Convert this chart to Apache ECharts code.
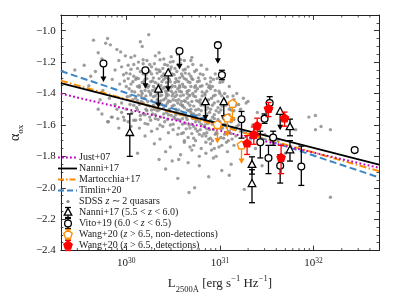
<!DOCTYPE html>
<html><head><meta charset="utf-8">
<script src="https://cdn.jsdelivr.net/npm/echarts@6/dist/echarts.min.js"></script>
<style>html,body{margin:0;padding:0;background:#fff}#c{width:399px;height:299px}</style>
</head><body><div id="c"></div>
<script>
const FONT = 'Liberation Serif';

// ---- fit relations: endpoints [L2500, alpha_ox]
const justLine = [[2e29, -1.401], [5e32, -1.873]];
const nanniLine = [[2e29, -1.333], [5e32, -1.853]];
const martLine = [[2e29, -1.318], [5e32, -1.894]];
const timlinLine = [[2e29, -1.257], [5e32, -1.934]];

// ---- SDSS z~2 quasars: [log10 L2500, alpha_ox]
const sdss = [
[29.65,-1.06],[29.80,-1.05],[29.78,-1.08],[29.83,-1.09],[29.70,-1.14],[29.55,-1.22],[29.74,-1.18],[29.67,-1.26],[29.92,-1.19],[29.88,-1.25],
[29.85,-1.31],[29.95,-1.23],[29.97,-1.28],[29.60,-1.35],[29.75,-1.38],[29.93,-1.34],[29.99,-1.16],[29.90,-1.12],[29.45,-1.25],[29.82,-1.43],
[29.70,-1.50],[29.88,-1.47],[29.95,-1.52],[29.80,-1.58],[29.92,-1.62],[29.98,-1.57],[29.72,-1.44],[29.62,-1.29],
[30.24,-1.025],[30.15,-1.07],[29.94,-1.135],[30.09,-1.16],[30.17,-1.10],[30.69,-1.19],[30.48,-1.166],[30.50,-1.196],
[30.05,-1.17],[30.22,-1.19],[30.31,-1.16],[30.40,-1.18],[30.55,-1.15],[30.62,-1.19],[30.70,-1.17],[30.13,-1.20],[30.47,-1.20],[30.35,-1.14],
[30.02,-1.22],[30.12,-1.24],[30.18,-1.21],[30.27,-1.23],[30.35,-1.25],[30.44,-1.22],[30.52,-1.24],[30.58,-1.21],[30.66,-1.23],[30.75,-1.25],
[30.80,-1.22],[30.30,-1.21],[30.48,-1.23],[30.61,-1.25],[30.39,-1.24],[30.23,-1.25],
[30.00,-1.27],[30.08,-1.29],[30.15,-1.26],[30.21,-1.28],[30.29,-1.30],[30.33,-1.27],[30.38,-1.29],[30.46,-1.26],[30.51,-1.28],[30.57,-1.30],
[30.63,-1.27],[30.69,-1.29],[30.73,-1.26],[30.82,-1.28],[30.90,-1.30],[30.25,-1.26],[30.42,-1.30],[30.54,-1.26],[30.60,-1.29],[30.77,-1.30],
[30.36,-1.26],[30.11,-1.30],
[29.98,-1.32],[30.05,-1.34],[30.10,-1.31],[30.17,-1.33],[30.24,-1.35],[30.28,-1.32],[30.34,-1.34],[30.40,-1.31],[30.43,-1.33],[30.49,-1.35],
[30.54,-1.32],[30.60,-1.34],[30.64,-1.31],[30.68,-1.33],[30.74,-1.35],[30.78,-1.32],[30.86,-1.34],[30.93,-1.31],[31.00,-1.33],[30.20,-1.31],
[30.31,-1.33],[30.46,-1.31],[30.57,-1.35],[30.71,-1.31],[30.81,-1.35],[30.37,-1.35],[30.14,-1.35],[30.52,-1.33],
[30.03,-1.37],[30.09,-1.39],[30.14,-1.36],[30.20,-1.38],[30.26,-1.40],[30.31,-1.37],[30.36,-1.39],[30.41,-1.36],[30.45,-1.38],[30.50,-1.40],
[30.55,-1.37],[30.59,-1.39],[30.63,-1.36],[30.67,-1.38],[30.71,-1.40],[30.76,-1.37],[30.81,-1.39],[30.88,-1.36],[30.95,-1.38],[31.05,-1.40],
[30.23,-1.36],[30.33,-1.40],[30.39,-1.37],[30.48,-1.36],[30.53,-1.39],[30.65,-1.40],[30.73,-1.36],[30.84,-1.40],[30.17,-1.40],[30.43,-1.40],
[30.57,-1.36],[30.28,-1.38],
[30.01,-1.42],[30.07,-1.44],[30.13,-1.41],[30.19,-1.43],[30.23,-1.45],[30.29,-1.42],[30.33,-1.44],[30.38,-1.41],[30.42,-1.43],[30.47,-1.45],
[30.52,-1.42],[30.56,-1.44],[30.61,-1.41],[30.65,-1.43],[30.70,-1.45],[30.74,-1.42],[30.79,-1.44],[30.84,-1.41],[30.91,-1.43],[30.98,-1.45],
[31.08,-1.42],[30.26,-1.41],[30.35,-1.45],[30.45,-1.41],[30.50,-1.44],[30.59,-1.45],[30.68,-1.41],[30.77,-1.45],[30.88,-1.44],[30.16,-1.45],
[30.40,-1.44],[30.54,-1.41],[30.63,-1.45],[30.10,-1.43],[30.95,-1.41],
[30.04,-1.47],[30.11,-1.49],[30.18,-1.46],[30.25,-1.48],[30.30,-1.50],[30.35,-1.47],[30.40,-1.49],[30.44,-1.46],[30.49,-1.48],[30.53,-1.50],
[30.58,-1.47],[30.62,-1.49],[30.66,-1.46],[30.72,-1.48],[30.77,-1.50],[30.82,-1.47],[30.87,-1.49],[30.94,-1.46],[31.02,-1.48],[31.10,-1.50],
[30.21,-1.50],[30.32,-1.46],[30.46,-1.50],[30.55,-1.46],[30.69,-1.50],[30.79,-1.46],[30.90,-1.50],[30.98,-1.49],[30.14,-1.47],[30.38,-1.47],
[30.60,-1.48],[30.84,-1.48],
[30.06,-1.52],[30.15,-1.54],[30.22,-1.51],[30.28,-1.53],[30.37,-1.55],[30.43,-1.52],[30.48,-1.54],[30.54,-1.51],[30.60,-1.53],[30.64,-1.55],
[30.69,-1.52],[30.75,-1.54],[30.80,-1.51],[30.86,-1.53],[30.92,-1.55],[30.99,-1.52],[31.06,-1.54],[31.15,-1.51],[30.33,-1.51],[30.51,-1.55],
[30.67,-1.51],[30.83,-1.55],[30.96,-1.51],[31.03,-1.55],[30.40,-1.53],[30.57,-1.53],[30.72,-1.53],[30.89,-1.52],[30.18,-1.53],[30.25,-1.55],
[30.10,-1.57],[30.20,-1.59],[30.31,-1.56],[30.41,-1.58],[30.47,-1.60],[30.57,-1.57],[30.63,-1.59],[30.71,-1.56],[30.78,-1.58],[30.84,-1.60],
[30.90,-1.57],[30.97,-1.59],[31.04,-1.56],[31.12,-1.58],[31.20,-1.60],[30.36,-1.60],[30.52,-1.56],[30.67,-1.60],[30.81,-1.56],[30.94,-1.56],
[31.08,-1.60],[30.74,-1.58],[30.87,-1.59],[31.00,-1.58],[30.26,-1.57],[30.60,-1.56],
[30.14,-1.62],[30.27,-1.64],[30.39,-1.61],[30.50,-1.63],[30.61,-1.65],[30.68,-1.62],[30.76,-1.64],[30.83,-1.61],[30.89,-1.63],[30.96,-1.65],
[31.03,-1.62],[31.10,-1.64],[31.18,-1.61],[30.72,-1.61],[30.86,-1.65],[30.99,-1.61],[31.06,-1.65],[30.56,-1.62],[30.93,-1.63],[30.79,-1.63],
[30.45,-1.65],
[30.20,-1.67],[30.36,-1.69],[30.55,-1.66],[30.66,-1.68],[30.74,-1.70],[30.81,-1.67],[30.88,-1.69],[30.95,-1.66],[31.01,-1.68],[31.09,-1.70],
[31.17,-1.67],[30.92,-1.70],[30.78,-1.66],[31.05,-1.66],[30.62,-1.70],[30.85,-1.67],[31.13,-1.69],[30.98,-1.69],
[30.30,-1.72],[30.47,-1.74],[30.62,-1.71],[30.72,-1.73],[30.80,-1.75],[30.90,-1.72],[30.99,-1.74],[31.07,-1.71],[31.15,-1.73],[30.85,-1.71],
[31.02,-1.73],[30.68,-1.74],[30.94,-1.75],
[30.12,-1.78],[30.42,-1.77],[30.58,-1.79],[30.70,-1.76],[30.85,-1.78],[30.96,-1.80],[31.08,-1.77],[30.78,-1.80],[30.91,-1.76],
[30.35,-1.82],[30.42,-1.88],[30.56,-1.82],[30.66,-1.84],[30.78,-1.86],[30.93,-1.81],[31.12,-1.85],[30.49,-1.83],[31.02,-1.89],
[30.55,-1.94],[30.67,-2.03],[30.73,-2.00],[30.88,-1.93],[31.10,-1.92],[31.26,-2.01],[32.18,-2.06],
[31.95,-1.55],[32.02,-1.54],[32.02,-1.63],[32.08,-1.61],[32.18,-1.63],[31.81,-1.63],[31.55,-1.47],[31.40,-1.52],[31.62,-1.70],[31.35,-1.60],
[31.48,-1.66],[31.30,-1.45],[31.25,-1.55],[31.38,-1.75],[31.45,-1.86],[31.70,-1.78],[31.33,-1.69],
[31.15,-1.44],[31.20,-1.47],[31.25,-1.43],[31.28,-1.46],[31.18,-1.40],[31.12,-1.46],[31.22,-1.50],[30.90,-1.37],[31.00,-1.40],[30.89,-1.35],
[29.97,-1.55],[30.02,-1.58],[29.90,-1.50],[30.05,-1.61],[29.85,-1.55],[30.08,-1.57],[29.95,-1.46],[30.00,-1.50],[29.74,-1.53],[29.84,-1.55],
[29.91,-1.56],[29.81,-1.58],
[30.18,-1.185],[30.36,-1.185],[30.58,-1.185],
[30.08,-1.215],[30.25,-1.215],[30.41,-1.215],[30.55,-1.215],[30.71,-1.215],
[30.05,-1.245],[30.20,-1.245],[30.32,-1.245],[30.47,-1.245],[30.63,-1.245],[30.86,-1.245],
[30.04,-1.275],[30.18,-1.275],[30.27,-1.275],[30.40,-1.275],[30.49,-1.275],[30.59,-1.275],[30.67,-1.275],[30.79,-1.275],[30.95,-1.275],
[30.02,-1.305],[30.13,-1.305],[30.22,-1.305],[30.35,-1.305],[30.45,-1.305],[30.53,-1.305],[30.62,-1.305],[30.70,-1.305],[30.84,-1.305],[30.97,-1.305],
[30.07,-1.325],[30.19,-1.325],[30.26,-1.325],[30.38,-1.325],[30.47,-1.325],[30.56,-1.325],[30.66,-1.325],[30.76,-1.325],[30.90,-1.325],[31.03,-1.325],
[30.00,-1.355],[30.12,-1.355],[30.21,-1.355],[30.29,-1.355],[30.35,-1.355],[30.44,-1.355],[30.52,-1.355],[30.61,-1.355],[30.69,-1.355],[30.79,-1.355],
[30.92,-1.355],[31.10,-1.355],
[30.06,-1.385],[30.16,-1.385],[30.24,-1.385],[30.34,-1.385],[30.42,-1.385],[30.48,-1.385],[30.57,-1.385],[30.65,-1.385],[30.74,-1.385],[30.86,-1.385],
[30.99,-1.385],
[30.04,-1.415],[30.16,-1.415],[30.21,-1.415],[30.31,-1.415],[30.36,-1.415],[30.43,-1.415],[30.49,-1.415],[30.58,-1.415],[30.67,-1.415],[30.72,-1.415],
[30.81,-1.415],[30.93,-1.415],[31.02,-1.415],[31.14,-1.415],
[30.12,-1.445],[30.27,-1.445],[30.37,-1.445],[30.45,-1.445],[30.53,-1.445],[30.62,-1.445],[30.75,-1.445],[30.86,-1.445],[31.05,-1.445],
[30.08,-1.475],[30.22,-1.475],[30.29,-1.475],[30.42,-1.475],[30.51,-1.475],[30.60,-1.475],[30.68,-1.475],[30.80,-1.475],[30.92,-1.475],[31.06,-1.475],
[31.17,-1.475],
[30.12,-1.505],[30.27,-1.505],[30.35,-1.505],[30.46,-1.505],[30.56,-1.505],[30.65,-1.505],[30.74,-1.505],[30.85,-1.505],[31.01,-1.505],[31.12,-1.505],
[30.20,-1.535],[30.31,-1.535],[30.45,-1.535],[30.53,-1.535],[30.62,-1.535],[30.70,-1.535],[30.78,-1.535],[30.94,-1.535],[31.10,-1.535],
[30.15,-1.565],[30.34,-1.565],[30.44,-1.565],[30.55,-1.565],[30.65,-1.565],[30.76,-1.565],[30.83,-1.565],[30.98,-1.565],[31.15,-1.565],
[30.23,-1.595],[30.50,-1.595],[30.60,-1.595],[30.70,-1.595],[30.80,-1.595],[30.92,-1.595],[31.05,-1.595],
[30.33,-1.625],[30.64,-1.625],[30.74,-1.625],[30.86,-1.625],[31.01,-1.625],[31.14,-1.625],
[30.59,-1.655],[30.70,-1.655],[30.83,-1.655],[30.97,-1.655],[31.12,-1.655],
[30.72,-1.685],[30.90,-1.685],[31.04,-1.685]
];

// ---- Nanni+17 (5.5<z<6.0): L, alpha, err+, err-, upper limit flag
const nanniL   = [1.09e30, 2.2e30, 2.8e30, 7.0e30, 1.1e31, 4.4e31, 5.6e31, 5.6e31, 2.2e31, 2.2e31];
const nanniA   = [-1.65, -1.374, -1.27, -1.454, -1.454, -1.515, -1.613, -1.76, -1.853, -1.975];
const nanniUp  = [0.12, 0, 0, 0, 0, 0, 0.05, 0.06, 0.05, 0.09];
const nanniDn  = [0.15, 0, 0, 0, 0, 0, 0.056, 0.07, 0.06, 0.12];
const nanniLim = [0, 1, 1, 1, 1, 1, 0, 0, 0, 0];

// ---- Vito+19 (6.0<z<6.5)
const vitoL   = [5.7e29, 1.6e30, 3.7e30, 9.5e30, 1.05e31, 3.4e31, 3.0e31, 1.7e31, 2.7e31, 3.3e31, 4.4e31, 7.4e31, 2.75e32, 3.7e31];
const vitoA   = [-1.209, -1.252, -1.129, -1.092, -1.282, -1.46, -1.56, -1.564, -1.71, -1.81, -1.86, -1.865, -1.76, -1.68];
const vitoUp  = [0, 0, 0, 0, 0.03, 0.04, 0.03, 0.05, 0.07, 0.08, 0.07, 0.13, 0, 0.04];
const vitoDn  = [0, 0, 0, 0, 0.03, 0.04, 0.03, 0.12, 0.10, 0.10, 0.11, 0.12, 0, 0.05];
const vitoLim = [1, 1, 1, 1, 0, 0, 0, 0, 0, 0, 0, 0, 0, 0];

// ---- Wang+20 non-detections (upper limits)
const wangNdL = [1.36e31, 1.2e31, 9.4e30, 1.7e31];
const wangNdA = [-1.466, -1.558, -1.60, -1.73];

// ---- Wang+20 detections
const wangDL  = [3.3e31, 4.9e31, 2.5e31, 2.3e31, 1.95e31, 4.5e31];
const wangDA  = [-1.497, -1.558, -1.607, -1.663, -1.718, -1.81];
const wangDUp = [0.04, 0.04, 0.05, 0.05, 0.05, 0.08];
const wangDDn = [0.05, 0.05, 0.06, 0.06, 0.07, 0.10];

// ---- axis ticks
const xMinor = [3e29,4e29,5e29,6e29,7e29,8e29,9e29,2e30,3e30,4e30,5e30,6e30,7e30,8e30,9e30,2e31,3e31,4e31,5e31,6e31,7e31,8e31,9e31,2e32,3e32,4e32];

const legendLabels = ['Just+07', 'Nanni+17', 'Martocchia+17', 'Timlin+20', 'SDSS {i|z} ∼ 2 quasars',
  'Nanni+17 (5.5 < {i|z} < 6.0)', 'Vito+19 (6.0 < {i|z} < 6.5)',
  'Wang+20 ({i|z} > 6.5, non-detections)', 'Wang+20 ({i|z} > 6.5, detections)'];

const C_MAG = '#bf00bf', C_BLK = '#000000', C_ORG = '#ff8c00', C_BLU = '#3b86c6', C_GRY = '#868686', C_RED = '#ff0000';
const ARROW = 0.115;

function marker(shape, x, y, stroke, fill, r) {
  const st = {fill: fill, stroke: stroke, lineWidth: 1.3};
  if (shape === 'circle') return {type: 'circle', shape: {cx: x, cy: y, r: r}, style: st};
  if (shape === 'triangle') return {type: 'polygon', shape: {points: [[x, y - r * 1.2], [x - r * 1.05, y + r * 0.75], [x + r * 1.05, y + r * 0.75]]}, style: st};
  const pts = [];
  for (let k = 0; k < 5; k++) { const g = -Math.PI / 2 + k * 2 * Math.PI / 5; pts.push([x + r * Math.cos(g), y + r * Math.sin(g)]); }
  return {type: 'polygon', shape: {points: pts}, style: st};
}

function errRender(shape, stroke, fill, r) {
  return function (params, api) {
    const L = api.value(0), a = api.value(1), up = api.value(2), dn = api.value(3), lim = api.value(4);
    const p = api.coord([L, a]);
    const kids = [];
    const ls = {stroke: stroke, lineWidth: 1.3};
    if (lim) {
      const q = api.coord([L, a - ARROW]);
      kids.push({type: 'line', shape: {x1: p[0], y1: p[1], x2: q[0], y2: q[1] - 3}, style: ls});
      kids.push({type: 'polygon', shape: {points: [[q[0] - 3, q[1] - 5], [q[0] + 3, q[1] - 5], [q[0], q[1] + 0.5]]}, style: {fill: stroke}});
    }
    if (up > 0 || dn > 0) {
      const t = api.coord([L, a + up]), b = api.coord([L, a - dn]);
      kids.push({type: 'line', shape: {x1: t[0], y1: t[1], x2: b[0], y2: b[1]}, style: ls});
      kids.push({type: 'line', shape: {x1: t[0] - 3, y1: t[1], x2: t[0] + 3, y2: t[1]}, style: ls});
      kids.push({type: 'line', shape: {x1: b[0] - 3, y1: b[1], x2: b[0] + 3, y2: b[1]}, style: ls});
    }
    kids.push(marker(shape, p[0], p[1], stroke, fill, r));
    return {type: 'group', children: kids};
  };
}

const nanniData = nanniL.map((v, i) => [v, nanniA[i], nanniUp[i], nanniDn[i], nanniLim[i]]);
const vitoData = vitoL.map((v, i) => [v, vitoA[i], vitoUp[i], vitoDn[i], vitoLim[i]]);
const wangNdData = wangNdL.map((v, i) => [v, wangNdA[i], 0, 0, 1]);
const wangDData = wangDL.map((v, i) => [v, wangDA[i], wangDUp[i], wangDDn[i], 0]);
const sdssData = sdss.map(d => [Math.pow(10, d[0]), d[1]]);

function lineSeries(name, data, color, type, width, z) {
  return {name: name, type: 'line', data: data, showSymbol: false, symbol: 'none', z: z, silent: true,
    lineStyle: {color: color, type: type, width: width}, clip: true};
}

// ---- legend drawn as graphics
const LEG_X = 58, LEG_Y0 = 157.5, LEG_DY = 11;
const legendGraphics = [];
const legIcons = [
  {k: 'line', c: C_MAG, d: [1.8, 2.2], w: 2},
  {k: 'line', c: C_BLK, d: null, w: 1.8},
  {k: 'line', c: C_ORG, d: [6, 2, 1.5, 2], w: 2},
  {k: 'line', c: C_BLU, d: [6, 3], w: 2},
  {k: 'dot'},
  {k: 'mk', s: 'triangle', c: C_BLK, f: '#fff', r: 3.6},
  {k: 'mk', s: 'circle', c: C_BLK, f: '#fff', r: 3.4},
  {k: 'mk', s: 'pent', c: C_ORG, f: '#fff', r: 4.4},
  {k: 'mk', s: 'pent', c: C_RED, f: C_RED, r: 4.4}
];
legIcons.forEach((ic, i) => {
  const y = LEG_Y0 + i * LEG_DY;
  if (ic.k === 'line') {
    legendGraphics.push({type: 'line', shape: {x1: LEG_X, y1: y, x2: LEG_X + 19, y2: y},
      style: {stroke: ic.c, lineWidth: ic.w, lineDash: ic.d}, z: 100});
  } else if (ic.k === 'dot') {
    legendGraphics.push({type: 'circle', shape: {cx: LEG_X + 10, cy: y, r: 1.6}, style: {fill: C_GRY}, z: 100});
  } else {
    const x = LEG_X + 10;
    const ls = {stroke: ic.c, lineWidth: 1.3};
    legendGraphics.push({type: 'line', shape: {x1: x, y1: y - 5, x2: x, y2: y + 5}, style: ls, z: 100});
    legendGraphics.push({type: 'line', shape: {x1: x - 3, y1: y - 5, x2: x + 3, y2: y - 5}, style: ls, z: 100});
    legendGraphics.push({type: 'line', shape: {x1: x - 3, y1: y + 5, x2: x + 3, y2: y + 5}, style: ls, z: 100});
    const m = marker(ic.s, x, y, ic.c, ic.f, ic.r);
    m.z = 101;
    legendGraphics.push(m);
  }
  legendGraphics.push({type: 'text', x: LEG_X + 21, y: y, z: 100,
    style: {text: legendLabels[i], fill: '#222', font: '10px "' + FONT + '"', verticalAlign: 'middle', align: 'left',
      rich: {i: {fontStyle: 'italic', fontFamily: FONT, fontSize: 10, fill: '#222'}}}});
});

const chart = echarts.init(document.getElementById('c'), null, {renderer: 'canvas'});
const tickFont = {fontFamily: FONT, fontSize: 11, color: '#222'};
chart.setOption({
  animation: false,
  backgroundColor: '#fff',
  grid: {left: 51, right: 20, top: 15, bottom: 40, containLabel: false},
  xAxis: [{
    type: 'log', logBase: 10, min: 2e29, max: 5e32, position: 'bottom',
    axisLine: {lineStyle: {color: '#222', width: 1}},
    axisTick: {show: true, inside: true, length: 5, lineStyle: {color: '#222', width: 0.9}},
    splitLine: {show: false},
    axisLabel: {margin: 6, color: '#222', fontFamily: FONT,
      formatter: function (v) {
        const e = Math.log10(v);
        if (Math.abs(e - Math.round(e)) > 1e-6) return '';
        return '{b|10}{p|' + Math.round(e) + '}';
      },
      rich: {b: {fontFamily: FONT, fontSize: 11, lineHeight: 14, color: '#222'},
             p: {fontFamily: FONT, fontSize: 7.5, lineHeight: 8, verticalAlign: 'top', color: '#222'}}},
    name: '{m|L}{s|2500Å}{m| [erg s}{p|−1}{m| Hz}{p|−1}{m|]}',
    nameLocation: 'middle', nameGap: 20,
    nameTextStyle: {rich: {
      m: {fontFamily: FONT, fontSize: 13, lineHeight: 20, color: '#222'},
      s: {fontFamily: FONT, fontSize: 8.5, lineHeight: 10, verticalAlign: 'bottom', color: '#222'},
      p: {fontFamily: FONT, fontSize: 8.5, lineHeight: 10, verticalAlign: 'top', color: '#222'}}}
  }, {
    type: 'log', logBase: 10, min: 2e29, max: 5e32, position: 'top',
    axisLine: {lineStyle: {color: '#222', width: 1}},
    axisTick: {show: true, inside: true, length: 5, lineStyle: {color: '#222', width: 0.9}},
    axisLabel: {show: false}, splitLine: {show: false}
  }],
  yAxis: [{
    type: 'value', min: -2.4, max: -0.9, interval: 0.2, position: 'left',
    axisLine: {show: true, lineStyle: {color: '#222', width: 1}},
    axisTick: {show: true, inside: true, length: 5, lineStyle: {color: '#222', width: 0.9}},
    minorTick: {show: true, splitNumber: 4, length: 2.5, lineStyle: {color: '#222', width: 0.8}},
    splitLine: {show: false},
    axisLabel: Object.assign({margin: 5, showMaxLabel: false,
      formatter: v => (Math.abs(v + 0.9) < 1e-6 ? '' : v.toFixed(1).replace('-', '−'))}, tickFont),
    name: '{m|α}{s|ox}', nameLocation: 'middle', nameGap: 35, nameRotate: 90,
    nameTextStyle: {rich: {
      m: {fontFamily: FONT, fontSize: 14, lineHeight: 20, color: '#222'},
      s: {fontFamily: FONT, fontSize: 9, lineHeight: 10, verticalAlign: 'bottom', color: '#222'}}}
  }, {
    type: 'value', min: -2.4, max: -0.9, interval: 0.2, position: 'right',
    axisLine: {show: true, lineStyle: {color: '#222', width: 1}},
    axisTick: {show: true, inside: true, length: 5, lineStyle: {color: '#222', width: 0.9}},
    minorTick: {show: true, splitNumber: 4, length: 2.5, lineStyle: {color: '#222', width: 0.8}},
    splitLine: {show: false}, axisLabel: {show: false}
  }],
  graphic: legendGraphics,
  series: [
    {name: 'SDSS z~2 quasars', type: 'scatter', data: sdssData, symbol: 'circle', symbolSize: 3.4, silent: true, z: 1,
      itemStyle: {color: C_GRY}},
    lineSeries('Timlin+20', timlinLine, C_BLU, [7, 3.5], 2, 3),
    lineSeries('Martocchia+17', martLine, C_ORG, [7, 2.5, 1.5, 2.5], 2, 3),
    lineSeries('Nanni+17 fit', nanniLine, C_BLK, 'solid', 1.8, 3),
    lineSeries('Just+07', justLine, C_MAG, [1.8, 2.4], 2, 3),
    {type: 'custom', name: 'xminor', silent: true, z: 2, data: xMinor.map(v => [v]),
      encode: {x: 0},
      renderItem: function (params, api) {
        const cs = params.coordSys;
        const x = api.coord([api.value(0), -2.4])[0];
        return {type: 'group', children: [
          {type: 'line', shape: {x1: x, y1: cs.y + cs.height, x2: x, y2: cs.y + cs.height - 2.5}, style: {stroke: '#222', lineWidth: 0.8}},
          {type: 'line', shape: {x1: x, y1: cs.y, x2: x, y2: cs.y + 2.5}, style: {stroke: '#222', lineWidth: 0.8}}]};
      }},
    {type: 'custom', name: 'Nanni+17 (5.5<z<6.0)', data: nanniData, encode: {x: 0, y: 1}, z: 5,
      renderItem: errRender('triangle', C_BLK, '#fff', 3.6)},
    {type: 'custom', name: 'Vito+19 (6.0<z<6.5)', data: vitoData, encode: {x: 0, y: 1}, z: 5,
      renderItem: errRender('circle', C_BLK, '#fff', 3.4)},
    {type: 'custom', name: 'Wang+20 non-detections', data: wangNdData, encode: {x: 0, y: 1}, z: 6,
      renderItem: errRender('pent', C_ORG, '#fff', 4.4)},
    {type: 'custom', name: 'Wang+20 detections', data: wangDData, encode: {x: 0, y: 1}, z: 7,
      renderItem: errRender('pent', C_RED, C_RED, 4.3)}
  ]
});
</script></body></html>
